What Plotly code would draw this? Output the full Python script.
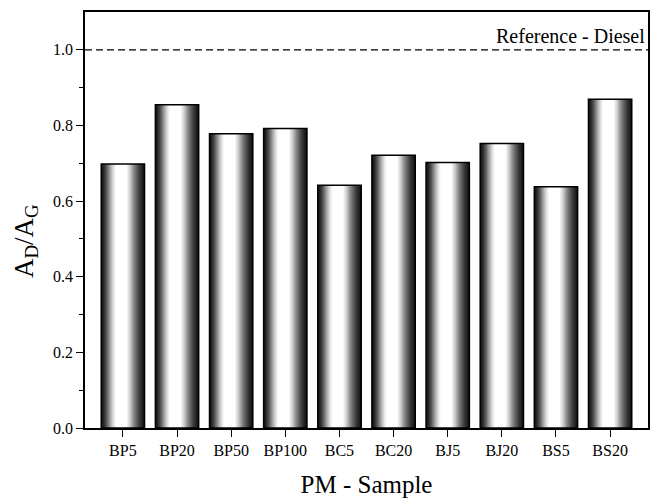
import numpy as np
import plotly.graph_objects as go

# ---- data ----
categories = ["BP5", "BP20", "BP50", "BP100", "BC5", "BC20", "BJ5", "BJ20", "BS5", "BS20"]
ad_ag = [0.698, 0.855, 0.778, 0.792, 0.642, 0.721, 0.702, 0.752, 0.638, 0.869]
reference_value = 1.0
y_ticks = [0.0, 0.2, 0.4, 0.6, 0.8, 1.0]

# ---- style ----
FONT = "Liberation Serif"
BAR_W = 0.8
N_STRIPS = 44
prof_t = [0.0, 0.05, 0.12, 0.20, 0.28, 0.34, 0.58, 0.66, 0.74, 0.82, 0.90, 1.0]
prof_l = [0.08, 0.14, 0.33, 0.62, 0.88, 1.0, 1.0, 0.82, 0.57, 0.37, 0.20, 0.08]

xs = list(range(len(categories)))
fig = go.Figure()

for i in range(N_STRIPS):
    t = (i + 0.5) / N_STRIPS
    g = int(round(255 * float(np.interp(t, prof_t, prof_l))))
    off = -BAR_W / 2 + i * BAR_W / N_STRIPS
    fig.add_trace(go.Bar(
        x=xs, y=ad_ag, width=BAR_W - i * BAR_W / N_STRIPS, offset=off,
        marker=dict(color=f"rgb({g},{g},{g})", line=dict(width=0)),
        showlegend=False, hoverinfo="skip"))

# outline
fig.add_trace(go.Bar(
    x=xs, y=ad_ag, width=BAR_W,
    marker=dict(color="rgba(0,0,0,0)", line=dict(color="black", width=1.5)),
    showlegend=False))

fig.add_shape(type="line", xref="paper", x0=0, x1=1, yref="y",
              y0=reference_value, y1=reference_value,
              line=dict(color="black", width=1.3, dash="7px,4px"))
fig.add_annotation(xref="paper", x=0.998, yref="y", y=reference_value,
                   text="Reference - Diesel", showarrow=False,
                   xanchor="right", yanchor="bottom", yshift=1,
                   font=dict(family=FONT, size=20, color="black"))
fig.add_annotation(xref="paper", x=-0.106, xanchor="center", yref="paper", y=0.45,
                   text="A<sub>D</sub>/A<sub>G</sub>", textangle=-90, showarrow=False,
                   font=dict(family=FONT, size=27, color="black"))

fig.update_layout(
    width=651, height=498, barmode="overlay",
    margin=dict(l=85, r=1, t=12, b=70),
    plot_bgcolor="white", paper_bgcolor="white",
    font=dict(family=FONT, color="black"),
    xaxis=dict(range=[-0.7, 9.7], tickvals=xs, ticktext=categories,
               showgrid=False, zeroline=False, showline=True, linecolor="black",
               linewidth=1.5, mirror=True, ticks="outside", ticklen=7,
               tickwidth=1.3, tickcolor="black",
               tickfont=dict(family=FONT, size=16, color="black"),
               title=dict(text="PM - Sample", standoff=18,
                          font=dict(family=FONT, size=25, color="black"))),
    yaxis=dict(range=[0, 1.1], tickvals=y_ticks,
               ticktext=[f"{v:.1f}" for v in y_ticks],
               showgrid=False, zeroline=False, showline=True, linecolor="black",
               linewidth=1.5, mirror=True, ticks="outside", ticklen=7,
               tickwidth=1.3, tickcolor="black",
               tickfont=dict(family=FONT, size=16, color="black"),
               minor=dict(tickvals=[0.1, 0.3, 0.5, 0.7, 0.9], ticks="outside",
                          ticklen=4, tickwidth=1.2, tickcolor="black")),
)

fig.write_html("out.html", config={"displayModeBar": False},
               post_script="document.body.style.margin='0';")
